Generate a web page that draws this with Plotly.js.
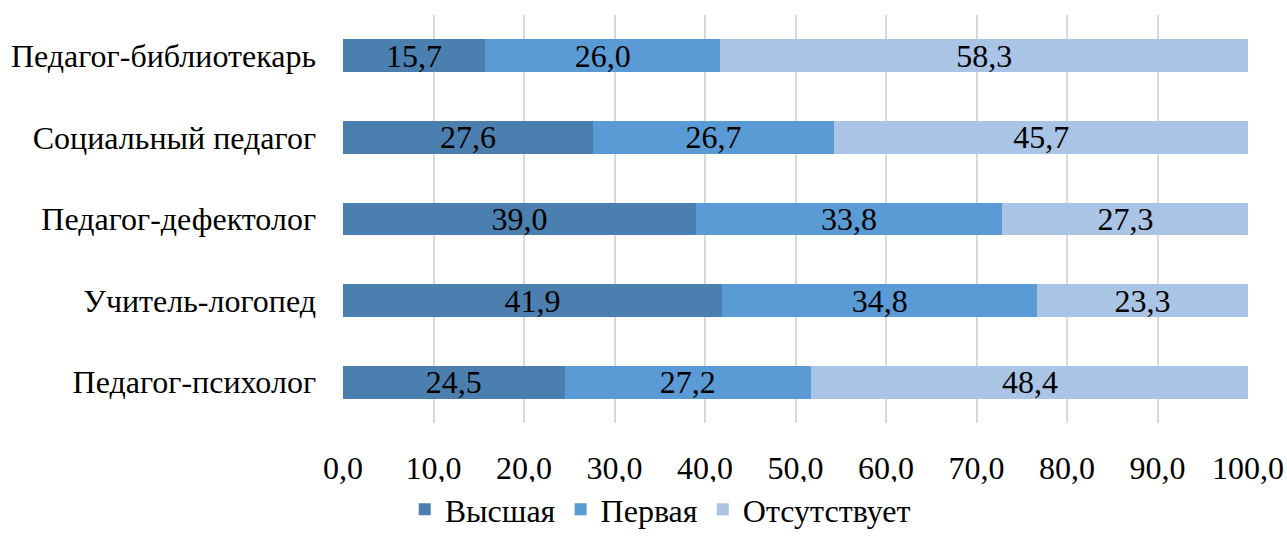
<!DOCTYPE html>
<html><head><meta charset="utf-8">
<script src="https://cdn.plot.ly/plotly-3.0.1.min.js"></script>
<style>html,body{margin:0;padding:0;background:#fff}#c{width:1287px;height:537px}</style>
</head><body><div id="c"></div>
<script>
const categories = ["Педагог-психолог","Учитель-логопед","Педагог-дефектолог","Социальный педагог","Педагог-библиотекарь"];
const vysshaya = [24.5, 41.9, 39.0, 27.6, 15.7];
const pervaya = [27.2, 34.8, 33.8, 26.7, 26.0];
const otsutstvuet = [48.4, 23.3, 27.3, 45.7, 58.3];
const seriesNames = ["Высшая","Первая","Отсутствует"];
const colors = ["#4b7fb0","#5a9bd5","#aac4e5"];
const xTicks = [0,10,20,30,40,50,60,70,80,90,100];

const font = "Liberation Serif, serif";
const data = [vysshaya, pervaya, otsutstvuet].map((v,i)=>({
  type:'bar', orientation:'h', y:categories, x:v, name:seriesNames[i],
  marker:{color:colors[i], line:{width:0}},
  text:v.map(d=>d.toFixed(1).replace('.',',')), textposition:'inside', insidetextanchor:'middle',
  textfont:{family:font,size:32,color:'#000'}, constraintext:'none', cliponaxis:true,
  hoverinfo:'none'
}));
const layout = {
  width:1287, height:537, barmode:'stack', bargap:0.6,
  separators:', ',
  margin:{l:343,r:39,t:15,b:114},
  paper_bgcolor:'#fff', plot_bgcolor:'#fff',
  font:{family:font,size:30,color:'#000'},
  xaxis:{range:[0,100], tickvals:xTicks, ticktext:xTicks.map(t=>t.toFixed(1).replace('.',',')),
    showgrid:true, gridcolor:'#d9d9d9', gridwidth:2, zeroline:false, showline:false,
    ticks:'', ticklabelstandoff:23, tickfont:{family:font,size:32,color:'#000'}, fixedrange:true},
  yaxis:{showgrid:false, zeroline:false, showline:false, ticks:'', ticklabelstandoff:26,
    tickfont:{family:font,size:32,color:'#000'}},
  showlegend:true,
  legend:{orientation:'h', xref:'container', yref:'container', x:0.513, xanchor:'center', y:-0.045, yanchor:'bottom',
    font:{family:font,size:32,color:'#000'}, traceorder:'normal', itemwidth:30}
};
Plotly.newPlot('c', data, layout, {staticPlot:true});
</script></body></html>
